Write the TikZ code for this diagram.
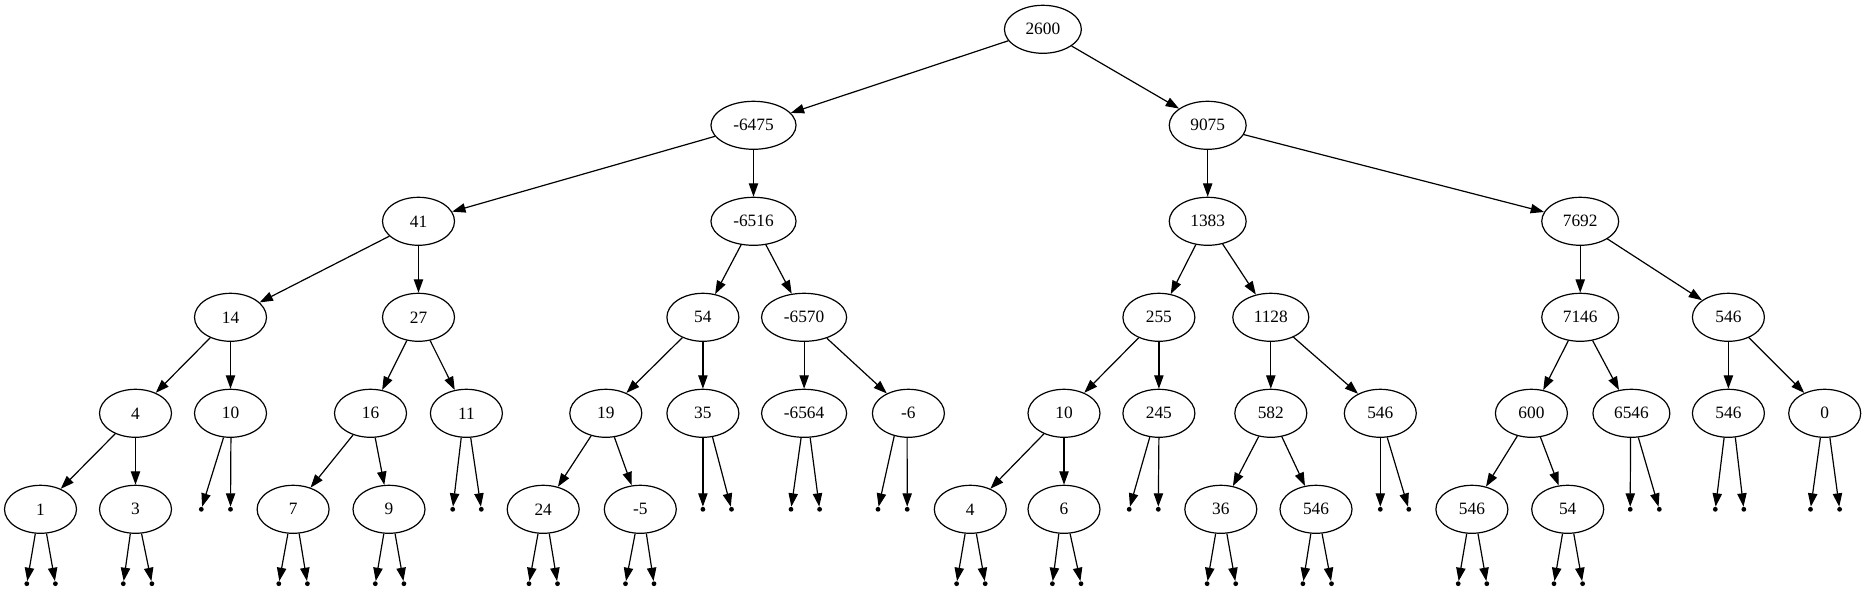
\documentclass[tikz,border=0pt]{standalone}
\usepackage{fontspec}
\setmainfont{Liberation Serif}
\usetikzlibrary{arrows.meta,shapes.geometric}
\tikzset{
 tn/.style={ellipse, draw, line width=0.9pt, minimum width=54pt, minimum height=36pt, inner xsep=7.4pt, inner ysep=2pt, font=\fontsize{13}{15}\selectfont},
 dot/.style={circle, fill, inner sep=0pt, minimum size=3.6pt},
 edge/.style={line width=0.9pt, -{Triangle[length=10pt,width=7pt]}}
}
\begin{document}
\begin{tikzpicture}[x=0.75pt,y=-0.75pt]
\useasboundingbox (0,0) rectangle (1867,591);
% level 0-2
\node[tn] (r) at (1042.9,29.3) {2600};
\node[tn] (n6475) at (753.5,125.3) {-6475};
\node[tn] (n9075) at (1207.7,125.3) {9075};
\node[tn] (n41) at (418.5,221.3) {41};
\node[tn] (n6516) at (753.5,221.3) {-6516};
\node[tn] (n1383) at (1207.7,221.3) {1383};
\node[tn] (n7692) at (1580.2,221.3) {7692};
% level 3
\node[tn] (n14) at (230.5,317.3) {14};
\node[tn] (n27) at (418.5,317.3) {27};
\node[tn] (n54) at (702.9,317.3) {54};
\node[tn] (n6570) at (804.1,317.3) {-6570};
\node[tn] (n255) at (1158.9,317.3) {255};
\node[tn] (n1128) at (1270.8,317.3) {1128};
\node[tn] (n7146) at (1580.2,317.3) {7146};
\node[tn] (n546a) at (1728.4,317.3) {546};
% level 4
\node[tn] (n4) at (135.5,413.3) {4};
\node[tn] (n10a) at (230.5,413.3) {10};
\node[tn] (n16) at (370.5,413.3) {16};
\node[tn] (n11) at (466.4,413.3) {11};
\node[tn] (n19) at (605.8,413.3) {19};
\node[tn] (n35) at (702.9,413.3) {35};
\node[tn] (n6564) at (804.1,413.3) {-6564};
\node[tn] (nm6) at (908.4,413.3) {-6};
\node[tn] (n10b) at (1064,413.3) {10};
\node[tn] (n245) at (1158.9,413.3) {245};
\node[tn] (n582) at (1270.8,413.3) {582};
\node[tn] (n546b) at (1380.3,413.3) {546};
\node[tn] (n600) at (1531.4,413.3) {600};
\node[tn] (n6546) at (1631.4,413.3) {6546};
\node[tn] (n546c) at (1728.4,413.3) {546};
\node[tn] (n0) at (1824.7,413.3) {0};
% level 5
\node[tn] (n1) at (40.5,509.3) {1};
\node[tn] (n3) at (135.5,509.3) {3};
\node[tn] (n7) at (293.1,509.3) {7};
\node[tn] (n9) at (389,509.3) {9};
\node[tn] (n24) at (543.2,509.3) {24};
\node[tn] (nm5) at (640.3,509.3) {-5};
\node[tn] (n4b) at (970.3,509.3) {4};
\node[tn] (n6b) at (1064,509.3) {6};
\node[tn] (n36) at (1220.8,509.3) {36};
\node[tn] (n546d) at (1316,509.3) {546};
\node[tn] (n546e) at (1471.9,509.3) {546};
\node[tn] (n54b) at (1567.7,509.3) {54};
% edges
\foreach \p/\c in {r/n6475, r/n9075, n6475/n41, n6475/n6516, n9075/n1383, n9075/n7692,
  n41/n14, n41/n27, n6516/n54, n6516/n6570, n1383/n255, n1383/n1128, n7692/n7146, n7692/n546a,
  n14/n4, n14/n10a, n27/n16, n27/n11, n54/n19, n54/n35, n6570/n6564, n6570/nm6,
  n255/n10b, n255/n245, n1128/n582, n1128/n546b, n7146/n600, n7146/n6546, n546a/n546c, n546a/n0,
  n4/n1, n4/n3, n16/n7, n16/n9, n19/n24, n19/nm5, n10b/n4b, n10b/n6b, n582/n36, n582/n546d,
  n600/n546e, n600/n54b}
  {\draw[edge] (\p) -- (\c);}
% null children (points) of level-4 leaves
\foreach \n/\xa/\xb/\aa/\ab in {n10a/201.3/230.5/254/271, n11/452.7/481.3/258/280,
  n35/702.9/731.5/270/292, n6564/791/819.6/263/284, nm6/878/907.2/238/267,
  n245/1129.2/1158.3/249/270, n546b/1380.3/1408.8/270/286, n6546/1630.2/1659.3/268/286,
  n546c/1715.3/1743.8/260/286, n0/1810.5/1839.6/260/282}
{
  \node[dot] (\n-l) at (\xa,509.3) {};
  \node[dot] (\n-r) at (\xb,509.3) {};
  \draw[edge] (\n.\aa) -- (\n-l);
  \draw[edge] (\n.\ab) -- (\n-r);
}
% null children (points) of level-5 leaves
\foreach \n/\xa/\xb in {n1/26.8/55.4, n3/123.3/151.9, n7/278.8/307.4, n9/375.3/403.9,
  n24/529/557.5, nm5/625.5/654, n4b/956.6/985.2, n6b/1052.4/1081, n36/1207.1/1235.7,
  n546d/1302.9/1331.5, n546e/1458.2/1486.8, n54b/1554/1582.6}
{
  \node[dot] (\n-l) at (\xa,583.7) {};
  \node[dot] (\n-r) at (\xb,583.7) {};
  \draw[edge] (\n.258) -- (\n-l);
  \draw[edge] (\n.284) -- (\n-r);
}
\end{tikzpicture}
\end{document}
